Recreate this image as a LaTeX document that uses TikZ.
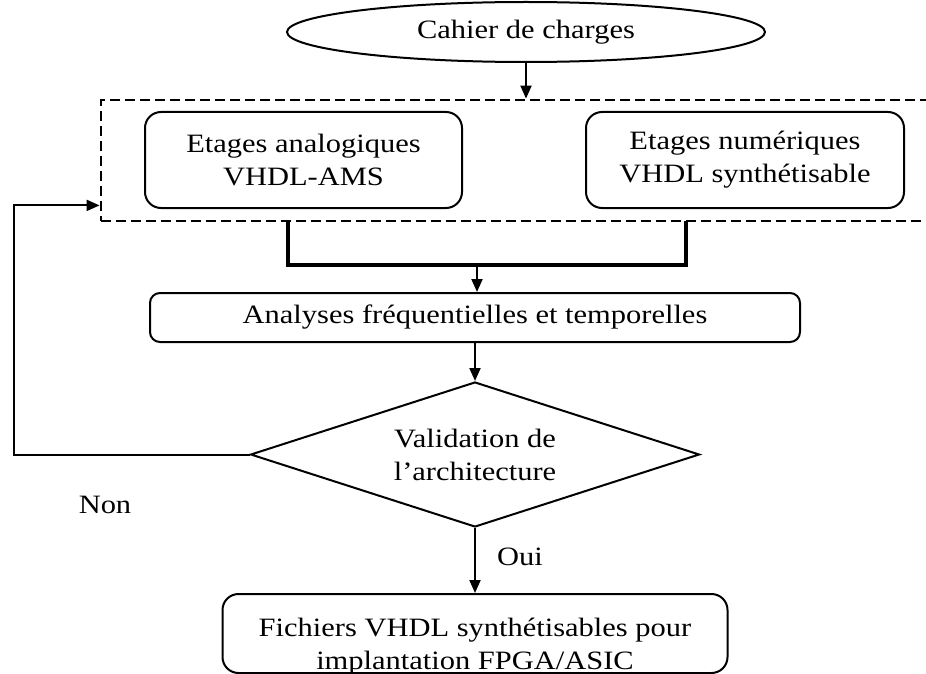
\documentclass[tikz,border=0pt]{standalone}
\usepackage{fontspec}
\setmainfont[FakeStretch=1.15]{Liberation Serif}
\usetikzlibrary{shapes.geometric,arrows.meta,calc}
\begin{document}
\begin{tikzpicture}[x=1pt,y=-1pt,
  every node/.style={font=\fontsize{26.5}{33}\selectfont, align=center, inner sep=0pt},
  ln/.style={line width=2pt},
  arr/.style={ln,-{Triangle[length=13pt,width=11pt]}},
  rbox/.style={draw,ln,rounded corners=16pt},
  grpbox/.style={draw,line width=2.8pt,dash pattern=on 10pt off 5pt}]
\useasboundingbox (0,0) rectangle (926,674);
\fill[white] (0,0) rectangle (926,674);

\node[draw,ln,ellipse,minimum width=478pt,minimum height=60pt] (cdc) at (526,32) {Cahier de charges};

\node[grpbox,minimum width=834pt,minimum height=121pt] (grp) at (518,160.5) {};
\node[rbox,minimum width=317pt,minimum height=96pt] (ana) at (303.5,160) {Etages analogiques\\VHDL-AMS};
\node[rbox,minimum width=318pt,minimum height=96pt] (num) at (745,160) {Etages numériques\\VHDL synthétisable};

\draw[arr] (cdc.south) -- (cdc.south |- grp.north);

\coordinate (bl) at (288,221);
\coordinate (br) at (686,221);
\coordinate (bm) at (477,265);
\draw[line width=4pt] (bl) |- (bm) -| (br);

\node[rbox,rounded corners=10pt,minimum width=650pt,minimum height=49pt] (an) at (475,317.5) {Analyses fréquentielles et temporelles};
\draw[arr] (bm) -- (bm |- an.north);

\node[draw,ln,diamond,aspect=3.1,minimum width=449pt,minimum height=145pt] (val) at (475,454.5) {Validation de\\l’architecture};
\draw[arr] (an.south) -- (val.north);

\node[rbox,minimum width=505pt,minimum height=79pt] (fin) at (475,633.5) {};
\node (fintxt) at (475,646.5) {Fichiers VHDL synthétisables pour\\implantation FPGA/ASIC};
\draw[arr] (val.south) -- (fin.north);
\node (oui) at (520,557) {Oui};

\coordinate (fb) at (14,454.5);
\draw[arr] (val.west) -- (fb) |- ($(grp.south west)+(0,-17)$);
\node (non) at (105,505) {Non};
\end{tikzpicture}
\end{document}
